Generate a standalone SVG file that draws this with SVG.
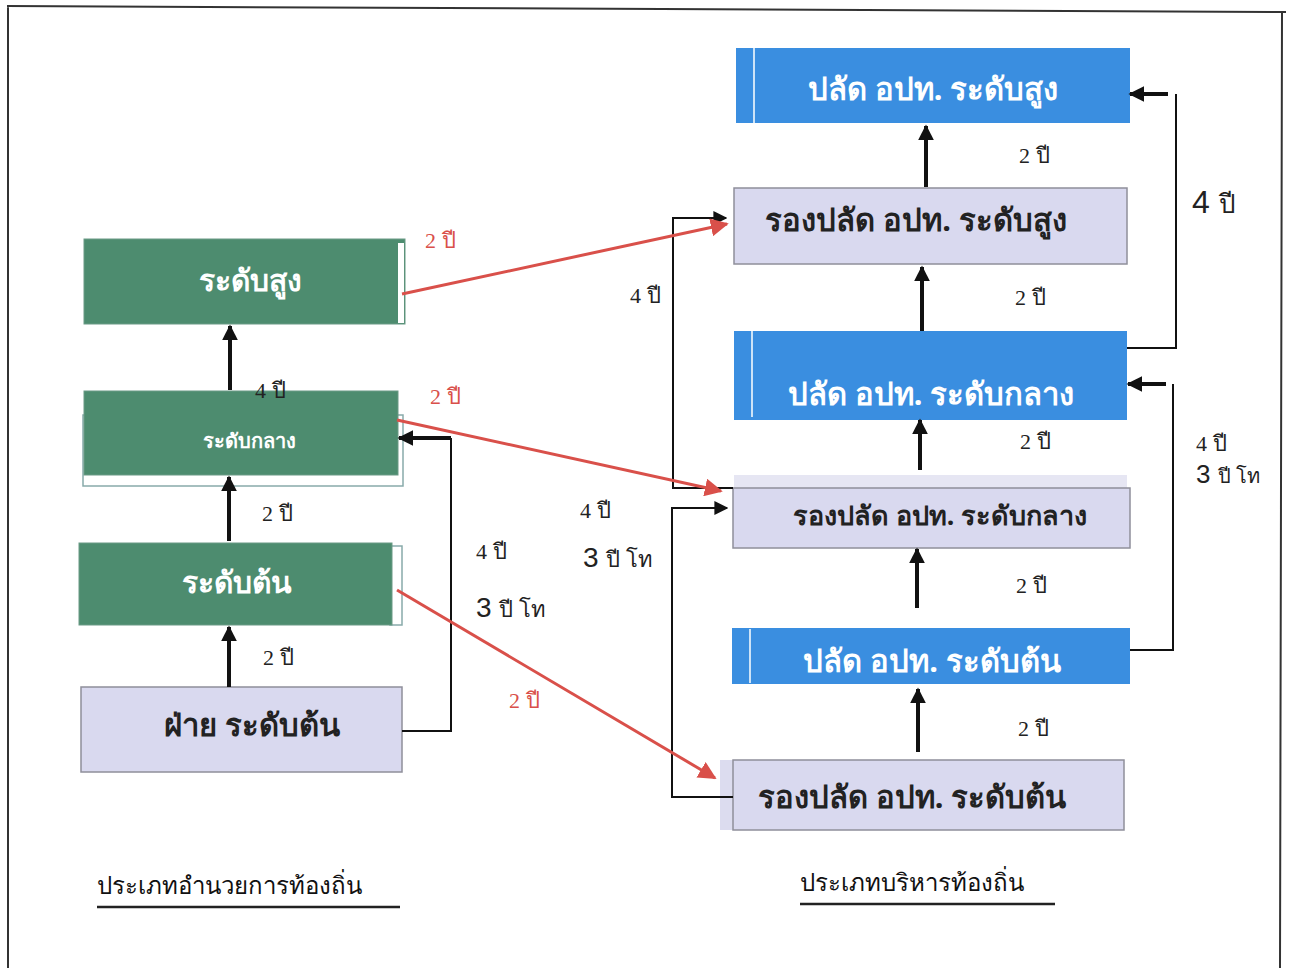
<svg xmlns="http://www.w3.org/2000/svg" width="1290" height="968" viewBox="0 0 1290 968">
<defs>
<marker id="ah" viewBox="0 0 10 10" refX="9" refY="5" markerWidth="4" markerHeight="4" orient="auto" markerUnits="strokeWidth"><path d="M0,0 L10,5 L0,10 z" fill="#111"/></marker>
<marker id="ahs" viewBox="0 0 10 10" refX="9" refY="5" markerWidth="7" markerHeight="7" orient="auto" markerUnits="strokeWidth"><path d="M0,0 L10,5 L0,10 z" fill="#111"/></marker>
<marker id="ahr" viewBox="0 0 10 10" refX="9" refY="5" markerWidth="6" markerHeight="6" orient="auto" markerUnits="strokeWidth"><path d="M0,0 L10,5 L0,10 z" fill="#d9504a"/></marker>
</defs>
<style>
.green{fill:#4d8c6f;stroke:#6a9a86;stroke-width:1}
.blue{fill:#3a8ee0}
.lav{fill:#d9d9ef;stroke:#8f8f9a;stroke-width:1.5}
.wt{fill:#fff;font-family:"Noto Sans","DejaVu Sans",sans-serif;font-weight:bold;text-anchor:middle}
.dt{fill:#222;font-family:"Noto Sans","DejaVu Sans",sans-serif;font-weight:bold;text-anchor:middle}
.lbl{fill:#222;font-family:"Liberation Serif","Noto Sans",serif;font-size:22px}
.rl{fill:#d9504a;font-family:"Liberation Serif","Noto Sans",serif;font-size:22px}
.sl{fill:#222;font-family:"Liberation Sans","Noto Sans",sans-serif}
.cap{fill:#111;font-family:"Noto Sans","DejaVu Sans",sans-serif;font-size:24px}
.up{stroke:#111;stroke-width:4;fill:none;marker-end:url(#ah)}
.con{stroke:#111;stroke-width:2;fill:none}
.red{stroke:#d9504a;stroke-width:3;fill:none;marker-end:url(#ahr)}
</style>
<rect width="1290" height="968" fill="#fff"/>
<path d="M7,6 L1286,12 M8,6 L8,968 M1282,12 L1280,968" stroke="#333" stroke-width="2" fill="none"/>

<g id="n-left-high">
<rect class="green" x="84" y="239" width="321" height="85"/>
<rect x="398" y="243" width="6" height="80" fill="#fff"/>
<text class="wt" x="250" y="291" font-size="30">ระดับสูง</text>
</g>
<g id="n-left-mid">
<rect x="83" y="415" width="320" height="71" fill="#fff" stroke="#8aa" stroke-width="1.5"/>
<rect class="green" x="84" y="391" width="314" height="84"/>
<text class="wt" x="249" y="448" font-size="20">ระดับกลาง</text>
</g>
<g id="n-left-low">
<rect x="390" y="546" width="12" height="79" fill="#fff" stroke="#8aa" stroke-width="1.5"/>
<rect class="green" x="79" y="543" width="313" height="82"/>
<text class="wt" x="237" y="593" font-size="30">ระดับต้น</text>
</g>
<g id="n-left-base">
<rect class="lav" x="81" y="687" width="321" height="85"/>
<text class="dt" x="252" y="736" font-size="31">ฝ่าย ระดับต้น</text>
</g>

<g id="n-r-high">
<rect class="blue" x="736" y="48" width="394" height="75"/>
<line x1="754" y1="48" x2="754" y2="123" stroke="#fff" stroke-width="1.5"/>
<text class="wt" x="933" y="100" font-size="31" font-weight="normal">ปลัด อปท. ระดับสูง</text>
</g>
<g id="n-r-dep-high">
<rect class="lav" x="734" y="188" width="393" height="76"/>
<text class="dt" x="916" y="231" font-size="31">รองปลัด อปท. ระดับสูง</text>
</g>
<g id="n-r-mid">
<rect class="blue" x="734" y="331" width="393" height="89"/>
<line x1="752" y1="331" x2="752" y2="417" stroke="#fff" stroke-width="1.5"/>
<text class="wt" x="931" y="405" font-size="31">ปลัด อปท. ระดับกลาง</text>
</g>
<g id="n-r-dep-mid">
<rect x="734" y="475" width="393" height="14" fill="#e6e6f3"/>
<rect class="lav" x="733" y="488" width="397" height="60"/>
<text class="dt" x="940" y="525" font-size="27">รองปลัด อปท. ระดับกลาง</text>
</g>
<g id="n-r-low">
<rect class="blue" x="732" y="628" width="398" height="56"/>
<line x1="750" y1="629" x2="750" y2="683" stroke="#fff" stroke-width="1.5"/>
<text class="wt" x="932" y="672" font-size="31">ปลัด อปท. ระดับต้น</text>
</g>
<g id="n-r-dep-low">
<rect x="720" y="760" width="14" height="70" fill="#dcdcef"/>
<rect class="lav" x="733" y="760" width="391" height="70"/>
<text class="dt" x="912" y="808" font-size="31">รองปลัด อปท. ระดับต้น</text>
</g>

<g id="connectors">
<line class="up" x1="230" y1="390" x2="230" y2="326"/>
<line class="up" x1="229" y1="541" x2="229" y2="477"/>
<line class="up" x1="229" y1="687" x2="229" y2="627"/>
<polyline class="con" points="402,731 451,731 451,438"/>
<line class="up" x1="451" y1="438" x2="399" y2="438" stroke-width="3.5"/>

<line class="up" x1="926" y1="187" x2="926" y2="126"/>
<line class="up" x1="922" y1="331" x2="922" y2="267"/>
<line class="up" x1="920" y1="470" x2="920" y2="420"/>
<line class="up" x1="917" y1="608" x2="917" y2="549"/>
<line class="up" x1="918" y1="752" x2="918" y2="689"/>

<polyline class="con" points="1127,348 1176,348 1176,94"/>
<line class="up" x1="1168" y1="94" x2="1130" y2="94" stroke-width="3.5"/>
<polyline class="con" points="1130,650 1173,650 1173,384"/>
<line class="up" x1="1166" y1="384" x2="1128" y2="384" stroke-width="3.5"/>

<polyline class="con" points="733,488 673,488 673,218" stroke-width="2.5"/>
<line class="con" x1="672" y1="218" x2="726" y2="218" stroke-width="3" marker-end="url(#ahs)"/>
<polyline class="con" points="733,797 672,797 672,508" stroke-width="4"/>
<line class="con" x1="671" y1="508" x2="727" y2="508" stroke-width="3" marker-end="url(#ahs)"/>

<line class="red" x1="402" y1="294" x2="727" y2="224"/>
<line class="red" x1="397" y1="420" x2="721" y2="491"/>
<line class="red" x1="397" y1="590" x2="715" y2="778"/>
</g>

<g id="labels">
<text class="lbl" x="255" y="398">4 ปี</text>
<text class="lbl" x="262" y="521">2 ปี</text>
<text class="lbl" x="263" y="665">2 ปี</text>
<text class="rl" x="425" y="248">2 ปี</text>
<text class="rl" x="430" y="404">2 ปี</text>
<text class="rl" x="509" y="708">2 ปี</text>
<text class="lbl" x="476" y="559" font-size="20">4 ปี</text>
<text class="sl" x="476" y="617" font-size="28">3 <tspan font-family="Liberation Serif,Noto Sans,serif" font-size="22">ปี โท</tspan></text>
<text class="lbl" x="580" y="518" font-size="20">4 ปี</text>
<text class="sl" x="583" y="567" font-size="28">3 <tspan font-family="Liberation Serif,Noto Sans,serif" font-size="22">ปี โท</tspan></text>
<text class="lbl" x="630" y="303">4 ปี</text>
<text class="lbl" x="1019" y="163">2 ปี</text>
<text class="lbl" x="1015" y="305">2 ปี</text>
<text class="lbl" x="1020" y="449">2 ปี</text>
<text class="lbl" x="1016" y="593">2 ปี</text>
<text class="lbl" x="1018" y="736">2 ปี</text>
<text class="sl" x="1192" y="213" font-size="32">4 <tspan font-family="Liberation Serif,Noto Sans,serif" font-size="26">ปี</tspan></text>
<text class="lbl" x="1196" y="451" font-size="20">4 ปี</text>
<text class="sl" x="1196" y="483" font-size="26">3 <tspan font-family="Liberation Serif,Noto Sans,serif" font-size="20">ปี โท</tspan></text>
</g>

<g id="captions">
<text class="cap" x="97" y="894">ประเภทอำนวยการท้องถิ่น</text>
<line x1="97" y1="907" x2="400" y2="907" stroke="#222" stroke-width="2.5"/>
<text class="cap" x="800" y="891">ประเภทบริหารท้องถิ่น</text>
<line x1="800" y1="904" x2="1055" y2="904" stroke="#222" stroke-width="2.5"/>
</g>
</svg>
